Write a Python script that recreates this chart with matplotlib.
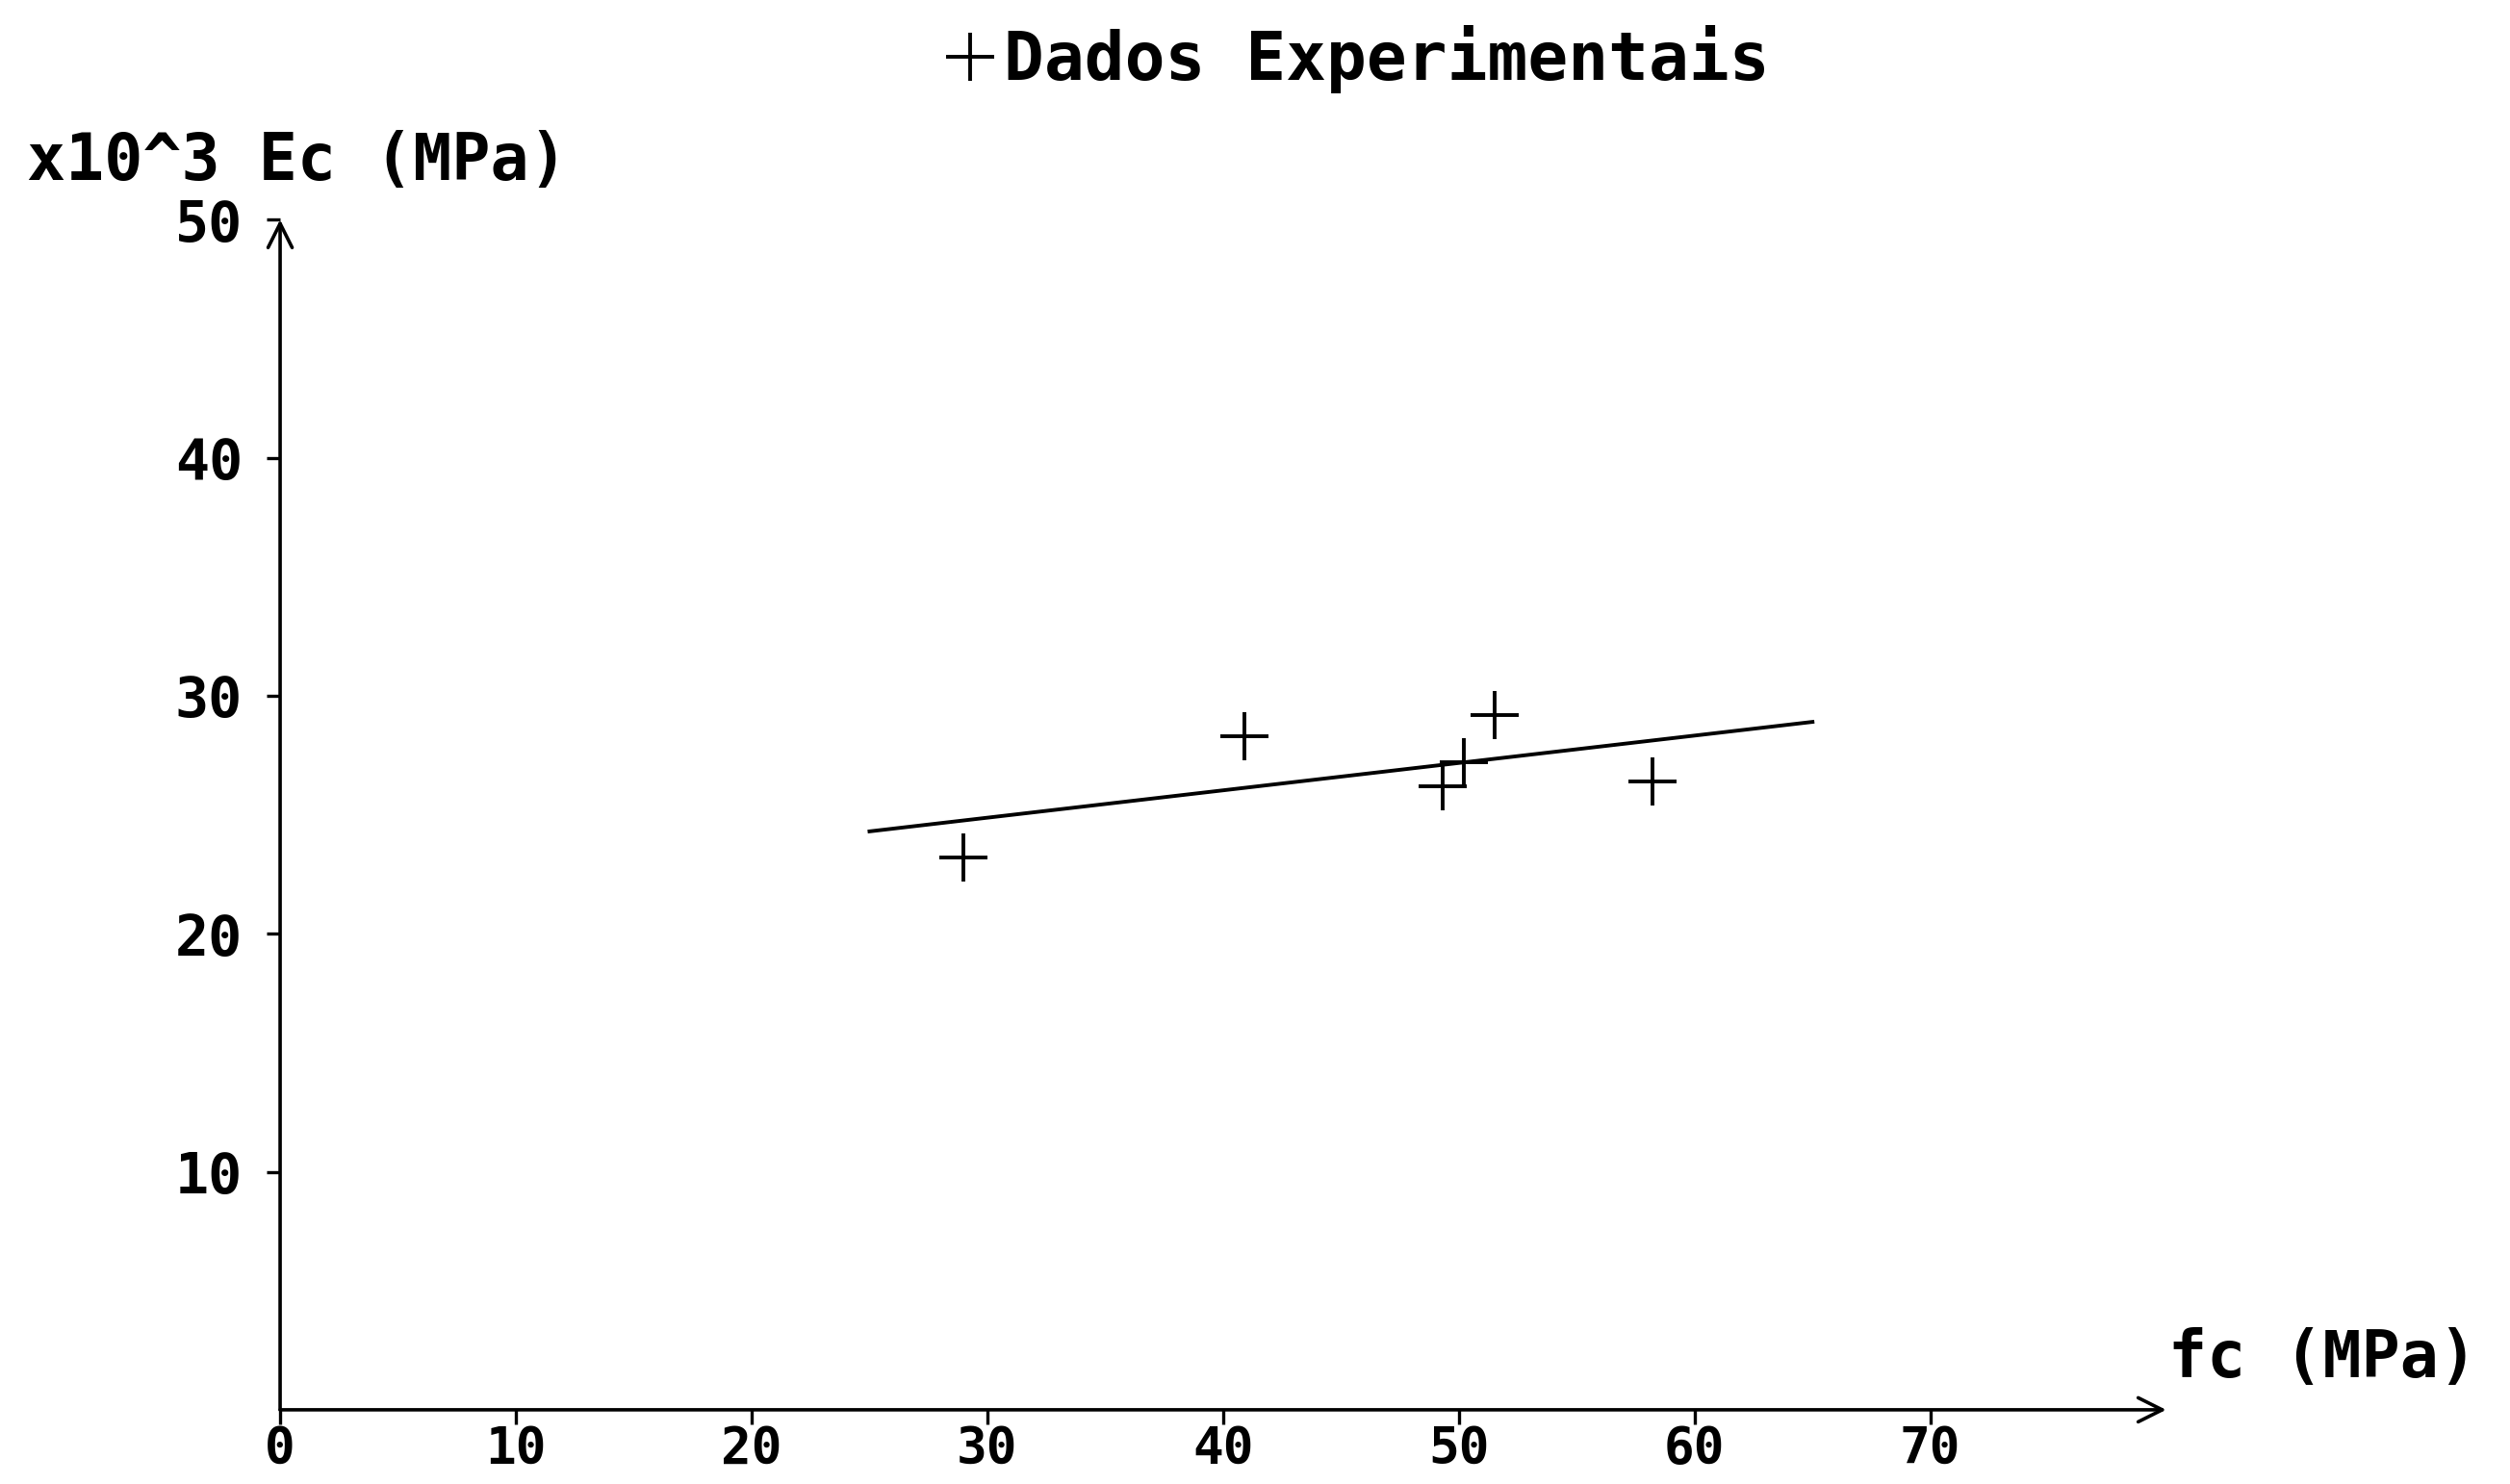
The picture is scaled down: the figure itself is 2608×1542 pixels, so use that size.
import matplotlib
matplotlib.use('Agg')
import matplotlib.pyplot as plt
import numpy as np

# experimental points, fc (MPa) vs Ec (x10^3 MPa)
fc = [29.0, 40.9, 49.3, 50.2, 51.5, 58.2]
ec = [23.2, 28.3, 26.2, 27.2, 29.2, 26.4]

# fitted line end points
fit_fc = [25.0, 65.0]
fit_ec = [24.3, 28.9]

xticks = [0, 10, 20, 30, 40, 50, 60, 70]
yticks = [10, 20, 30, 40, 50]

plt.rcParams['font.family'] = ['DejaVu Sans Mono']
plt.rcParams['font.weight'] = 'bold'

fig = plt.figure(figsize=(26.08, 15.42), dpi=100)
ax = fig.add_axes([0.1116, 0.0500, 0.7514, 0.8020])

ax.plot(fc, ec, linestyle='none', marker='+', markersize=36, mew=2.8,
        color='black', label='Dados Experimentais', clip_on=False)
ax.plot(fit_fc, fit_ec, color='black', lw=2.8)

ax.set_xlim(0, 80)
ax.set_ylim(0, 50)
for s in ax.spines.values():
    s.set_visible(False)

# axes drawn as arrows
arr = dict(arrowstyle='->', lw=2.6, color='black', mutation_scale=45, shrinkA=0, shrinkB=0)
ax.annotate('', xy=(80, 0), xytext=(0, 0), arrowprops=arr, annotation_clip=False)
ax.annotate('', xy=(0, 50), xytext=(0, 0), arrowprops=arr, annotation_clip=False)

ax.set_xticks(xticks)
ax.set_yticks(yticks)
ax.tick_params(axis='x', direction='out', length=11, width=2.4, pad=0, labelsize=38)
ax.tick_params(axis='y', direction='out', length=10, width=2.4, pad=18, labelsize=42)

fig.text(28 / 2608, 1 - 168 / 1542, 'x10^3 Ec (MPa)', fontsize=48, fontweight='bold',
         va='center', ha='left')
fig.text(2253 / 2608, 1 - 1412 / 1542, 'fc (MPa)', fontsize=48, fontweight='bold',
         va='center', ha='left')

leg = ax.legend(loc='center', bbox_to_anchor=(0.541, 0.96), bbox_transform=fig.transFigure,
                frameon=False, handlelength=0.7, handletextpad=0.15, fontsize=50,
                markerscale=1.0)

fig.savefig('out.png', dpi=100, facecolor='white')
